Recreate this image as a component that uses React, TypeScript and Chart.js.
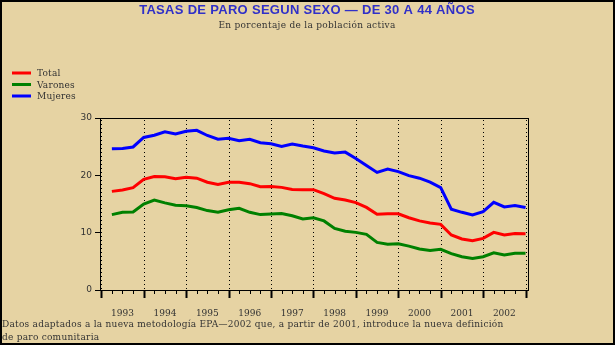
import React, { useEffect, useRef } from "react";
import { Chart, registerables } from "chart.js";

Chart.register(...registerables);

// ---- Data (quarterly, 1993 T1 .. 2002 T4) ----
const years = [1993, 1994, 1995, 1996, 1997, 1998, 1999, 2000, 2001, 2002];
const quartersPerYear = 4;

const total = [
  17.2, 17.45, 17.85, 19.3, 19.8, 19.75, 19.4, 19.65, 19.5, 18.8,
  18.4, 18.8, 18.8, 18.55, 18.0, 18.05, 17.9, 17.55, 17.5, 17.5,
  16.8, 16.0, 15.7, 15.25, 14.4, 13.2, 13.3, 13.3, 12.6, 12.05,
  11.7, 11.45, 9.6, 8.9, 8.6, 9.0, 10.05, 9.6, 9.85, 9.8,
];
const varones = [
  13.15, 13.55, 13.6, 15.0, 15.7, 15.2, 14.8, 14.7, 14.4, 13.85,
  13.55, 14.0, 14.25, 13.55, 13.15, 13.25, 13.35, 12.95, 12.4, 12.6,
  12.05, 10.75, 10.25, 10.05, 9.7, 8.3, 8.0, 8.05, 7.65, 7.15,
  6.9, 7.1, 6.35, 5.8, 5.5, 5.8, 6.5, 6.1, 6.4, 6.4,
];
const mujeres = [
  24.65, 24.7, 24.95, 26.6, 27.0, 27.6, 27.2, 27.7, 27.85, 26.95,
  26.3, 26.45, 26.05, 26.3, 25.7, 25.5, 25.05, 25.45, 25.1, 24.8,
  24.25, 23.9, 24.05, 22.95, 21.7, 20.5, 21.1, 20.65, 19.95, 19.5,
  18.8, 17.85, 14.1, 13.55, 13.1, 13.65, 15.3, 14.5, 14.75, 14.4,
];
const seriesNames = ["Total", "Varones", "Mujeres"];
const yTicks = [0, 10, 20, 30];

const titleText = "TASAS DE PARO SEGUN SEXO \u2014 DE 30 A 44 A\u00d1OS";
const subtitleText = "En porcentaje de la poblaci\u00f3n activa";
const footLines = [
  "Datos adaptados a la nueva metodolog\u00eda EPA\u20142002 que, a partir de 2001, introduce la nueva definici\u00f3n",
  "de paro comunitaria",
];

const BG = "#E6D3A3";
const TEXT = "#333333";
const COLORS = ["#FF0000", "#008000", "#0000FF"];
const SMALL_FONT = "9px 'DejaVu Serif'";

const toPoints = (arr: number[]) => arr.map((v, i) => ({ x: i + 1, y: v }));

const decor = {
  id: "decor",
  beforeDraw(chart: any) {
    const { ctx, width, height } = chart;
    ctx.save();
    ctx.fillStyle = BG;
    ctx.fillRect(0, 0, width, height);
    ctx.restore();
  },
  beforeDatasetsDraw(chart: any) {
    const { ctx, chartArea, scales } = chart;
    const x = scales.x;
    ctx.save();
    ctx.strokeStyle = "#000";
    ctx.lineWidth = 1;
    ctx.setLineDash([1, 3]);
    for (let i = 0; i <= years.length; i++) {
      const px = Math.round(x.getPixelForValue(i * quartersPerYear)) + 0.5;
      ctx.beginPath();
      ctx.moveTo(px, chartArea.top + 2);
      ctx.lineTo(px, chartArea.bottom);
      ctx.stroke();
    }
    ctx.restore();
  },
  afterDraw(chart: any) {
    const { ctx, chartArea, scales, width, height } = chart;
    const x = scales.x;
    const { left, right, top, bottom } = chartArea;
    ctx.save();
    // plot frame
    ctx.strokeStyle = "#000";
    ctx.lineWidth = 1;
    ctx.strokeRect(Math.round(left) + 0.5, Math.round(top) + 0.5, Math.round(right - left), Math.round(bottom - top));
    // x ticks: quarters minor, years major
    for (let q = 0; q <= years.length * quartersPerYear; q++) {
      const px = Math.round(x.getPixelForValue(q)) + 0.5;
      const len = q % quartersPerYear === 0 ? 8 : 4;
      ctx.lineWidth = q % quartersPerYear === 0 ? 2 : 1;
      ctx.beginPath();
      ctx.moveTo(px, Math.round(bottom));
      ctx.lineTo(px, Math.round(bottom) + len);
      ctx.stroke();
    }
    // title
    ctx.fillStyle = "#3030C8";
    ctx.font = "bold 13px 'Liberation Sans'";
    ctx.textAlign = "center";
    ctx.textBaseline = "middle";
    (ctx as any).letterSpacing = "0.3px";
    ctx.fillText(titleText, 307, 10);
    ctx.fillStyle = TEXT;
    ctx.font = SMALL_FONT;
    (ctx as any).letterSpacing = "0.3px";
    ctx.fillText(subtitleText, 307, 26);
    // legend
    ctx.textAlign = "left";
    (ctx as any).letterSpacing = "0.2px";
    chart.data.datasets.forEach((ds: any, i: number) => {
      const y = 73 + i * 11.5;
      ctx.strokeStyle = ds.borderColor;
      ctx.lineWidth = 3;
      ctx.beginPath();
      ctx.moveTo(12, y);
      ctx.lineTo(31, y);
      ctx.stroke();
      ctx.fillStyle = TEXT;
      ctx.fillText(ds.label, 37, y + 1);
    });
    // footnote
    ctx.fillStyle = TEXT;
    (ctx as any).letterSpacing = "0.25px";
    footLines.forEach((t, i) => ctx.fillText(t, 2, 325 + i * 13));
    (ctx as any).letterSpacing = "0px";
    // outer border
    ctx.strokeStyle = "#000";
    ctx.lineWidth = 2;
    ctx.strokeRect(1, 1, width - 2, height - 2);
    ctx.restore();
  },
};

export default function App() {
  const ref = useRef<HTMLCanvasElement | null>(null);
  useEffect(() => {
    document.body.style.margin = "0";
    const canvas = ref.current!;
    const chart = new Chart(canvas, {
      type: "line",
      data: {
        datasets: [total, varones, mujeres].map((arr, i) => ({
          label: seriesNames[i],
          data: toPoints(arr),
          borderColor: COLORS[i],
          backgroundColor: COLORS[i],
          borderWidth: 3,
          pointRadius: 0,
          tension: 0,
          fill: false,
        })),
      },
      options: {
        responsive: false,
        animation: false,
        events: [],
        layout: { padding: { left: 0, right: 87, top: 118, bottom: 0 } },
        plugins: { legend: { display: false }, title: { display: false }, tooltip: { enabled: false } },
        scales: {
          x: {
            type: "linear",
            min: -0.12,
            max: 40.23,
            grid: { display: false, drawTicks: false },
            border: { display: false },
            afterFit: (s: any) => { s.height = 55; },
            afterBuildTicks: (s: any) => {
              s.ticks = years.map((_, i) => ({ value: i * quartersPerYear + 2 }));
            },
            ticks: {
              autoSkip: false,
              maxRotation: 0,
              padding: 18,
              color: TEXT,
              font: { family: "DejaVu Serif", size: 9 },
              callback: (v: any) => String(years[Math.round((Number(v) - 2) / quartersPerYear)]),
            },
          },
          y: {
            min: 0,
            max: 30,
            afterFit: (s: any) => { s.width = 100; },
            afterBuildTicks: (s: any) => { s.ticks = yTicks.map((v) => ({ value: v })); },
            grid: { drawOnChartArea: false, drawTicks: true, tickLength: 5, tickColor: "#000" },
            border: { display: false },
            ticks: { padding: 3, color: TEXT, font: { family: "DejaVu Sans", size: 9 } },
          },
        },
      },
      plugins: [decor],
    } as any);
    return () => chart.destroy();
  }, []);
  return <canvas ref={ref} width={615} height={345} style={{ display: "block", width: 615, height: 345 }} />;
}
